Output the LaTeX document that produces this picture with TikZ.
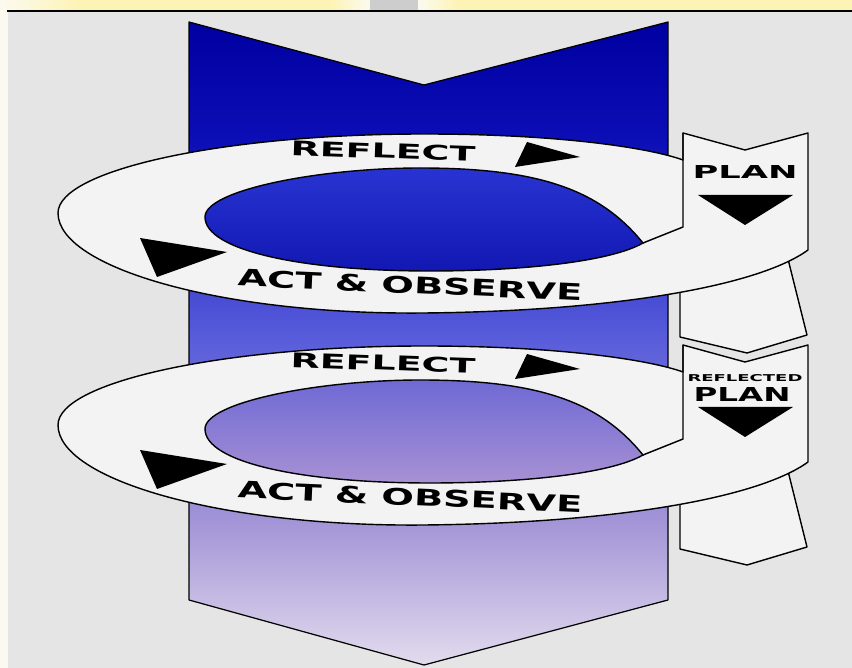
\documentclass[tikz,border=0pt]{standalone}
\usepackage{fontspec}
\setsansfont{DejaVu Sans}
\usepackage{graphicx}
\usetikzlibrary{calc,positioning}
\definecolor{bggray}{RGB}{229,229,229}
\definecolor{ringgray}{RGB}{243,243,243}
\definecolor{barwhite}{RGB}{252,250,240}
\definecolor{baryellow}{RGB}{253,243,180}
\definecolor{bargray}{RGB}{205,205,205}
\definecolor{colnavy}{RGB}{0,0,160}
\definecolor{colblue}{RGB}{12,14,182}
\definecolor{colmid}{RGB}{85,90,218}
\definecolor{collilac}{RGB}{165,150,215}
\definecolor{colpale}{RGB}{228,222,238}
\definecolor{holeAtop}{RGB}{40,52,210}
\definecolor{holeAbot}{RGB}{18,24,178}
\definecolor{holeBtop}{RGB}{110,105,212}
\definecolor{holeBbot}{RGB}{168,145,212}
\newcommand{\lbl}[3]{\resizebox{#1}{#2}{\sffamily\bfseries #3}}

\begin{document}
\begin{tikzpicture}[x=0.02cm,y=0.02cm,
  ringfill/.style={fill=ringgray,draw=black,line width=0.8pt,line join=round},
  tipfill/.style={fill=black},
  lbltext/.style={inner sep=0pt}]
\useasboundingbox (0,0) rectangle (852,-668);
\fill[bggray] (0,0) rectangle (852,-668);
\fill[barwhite] (0,-11) rectangle (8,-668);
\shade[left color=barwhite,right color=baryellow] (0,0) rectangle (80,-11);
\fill[baryellow] (80,0) rectangle (330,-11);
\shade[left color=baryellow,right color=barwhite] (330,0) rectangle (370,-11);
\fill[bargray] (370,0) rectangle (418,-11);
\shade[left color=barwhite,right color=baryellow] (418,0) rectangle (460,-11);
\fill[baryellow] (460,0) rectangle (852,-11);
\draw[line width=1.2pt] (7,-11) -- (852,-11);

\begin{scope}
\clip (189,-22) -- (424,-85) -- (668,-22) -- (668,-600) -- (424,-665) -- (189,-600) -- cycle;
\shade[top color=colnavy,bottom color=colblue] (180,-20) rectangle (680,-141);
\shade[top color=colblue,bottom color=colmid] (180,-140) rectangle (680,-331);
\shade[top color=colmid,bottom color=collilac] (180,-330) rectangle (680,-526);
\shade[top color=collilac,bottom color=colpale] (180,-525) rectangle (680,-670);
\end{scope}
\draw[line width=0.7pt,line join=round] (189,-22) -- (424,-85) -- (668,-22) -- (668,-600) -- (424,-665) -- (189,-600) -- cycle;

\foreach \dy/\htop/\hbot [count=\i] in {0/holeAtop/holeAbot,-212/holeBtop/holeBbot} {
\begin{scope}[shift={(0,\dy)}]
\filldraw[ringfill] (680,-280) -- (680,-337) -- (747,-353) -- (807,-335) -- (787,-255) -- cycle;
\filldraw[ringfill] (683,-133) -- (745,-150) -- (808,-133) -- (808,-250)
  .. controls (760,-285) and (620,-311) .. (424,-313)
  .. controls (223,-315) and (58,-268) .. (58,-213)
  .. controls (58,-170) and (223,-134) .. (424,-134)
  .. controls (560,-134) and (650,-148) .. (683,-160) -- cycle;
\shadedraw[top color=\htop,bottom color=\hbot,draw=black,line width=0.8pt]
  (205,-217) .. controls (205,-190) and (320,-168) .. (420,-168)
  .. controls (540,-168) and (600,-190) .. (643,-243)
  .. controls (610,-262) and (520,-271) .. (430,-271)
  .. controls (300,-271) and (205,-250) .. (205,-217) -- cycle;
\draw[line width=0.8pt,line join=round] (683,-133) -- (683,-227) -- (643,-243);
\fill[tipfill] (527,-142) -- (515,-167) -- (580,-157) -- cycle;
\fill[tipfill] (140,-238) -- (157,-277) -- (227,-252) -- cycle;
\fill[tipfill] (698,-195) -- (793,-195) -- (745,-225) -- cycle;
\node[lbltext,rotate=-2] (reflect\i) at (383,-151) {\lbl{3.7cm}{0.3cm}{REFLECT}};
\node[lbltext,rotate=-2.5] (act\i) at (410,-285) {\lbl{6.9cm}{0.34cm}{ACT \& OBSERVE}};
\end{scope}
}

\node[lbltext] (plan1) at (745,-172) {\lbl{2.1cm}{0.26cm}{PLAN}};
\node[lbltext] (reflected2) at (745,-378) {\lbl{2.3cm}{0.14cm}{REFLECTED}};
\node[lbltext] (plan2) at (742,-395) {\lbl{1.94cm}{0.28cm}{PLAN}};
\end{tikzpicture}
\end{document}
